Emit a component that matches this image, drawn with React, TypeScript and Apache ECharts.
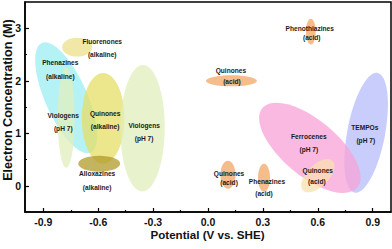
import React, { useEffect, useRef } from "react";
import * as echarts from "echarts";

// ---- data ----
// each region: endpoints of major axis [x1, y1, x2, y2] (V, M) and minor/major ratio
const regionNames = [
  "Phenazines (alkaline)",
  "Fluorenones (alkaline)",
  "Viologens (pH 7) A",
  "Quinones (alkaline)",
  "Viologens (pH 7) B",
  "Alloxazines (alkaline)",
  "Quinones (acid) A",
  "Phenothiazines (acid)",
  "TEMPOs (pH 7)",
  "Ferrocenes (pH 7)",
  "Quinones (acid) B",
  "Quinones (acid) C",
  "Phenazines (acid)",
];
const regionStart: [number, number][] = [
  [-0.908, 2.72],
  [-0.797, 2.64],
  [-0.775, 2.25],
  [-0.573, 2.15],
  [-0.355, 2.3],
  [-0.709, 0.42],
  [-0.011, 2.0],
  [0.562, 3.18],
  [0.927, 2.15],
  [0.297, 1.48],
  [0.519, -0.09],
  [0.109, 0.476],
  [0.306, 0.419],
];
const regionEnd: [number, number][] = [
  [-0.642, 0.633],
  [-0.633, 2.64],
  [-0.775, 0.343],
  [-0.573, 0.419],
  [-0.36, -0.11],
  [-0.48, 0.42],
  [0.267, 2.0],
  [0.562, 2.69],
  [0.802, -0.133],
  [0.816, -0.036],
  [0.681, 0.472],
  [0.109, -0.057],
  [0.306, -0.114],
];
const regionRatio = [0.35, 0.63, 0.17, 0.47, 0.35, 0.38, 0.22, 0.38, 0.31, 0.45, 0.52, 0.54, 0.43];
const regionColors = [
  "#9cedf2", "#ecdf8a", "#e0efbc", "#e6dd66", "#e0efbc", "#b09a2a", "#f2a666",
  "#f2a666", "#b6bcfb", "#f8a2d7", "#f8e0b0", "#f2a666", "#f2a666",
];

const labelTexts = [
  "Fluorenones", "(alkaline)",
  "Phenazines", "(alkaline)",
  "Viologens", "(pH 7)",
  "Quinones", "(alkaline)",
  "Viologens", "(pH 7)",
  "Alloxazines", "(alkaline)",
  "Quinones", "(acid)",
  "Phenothiazines", "(acid)",
  "Ferrocenes", "(pH 7)",
  "TEMPOs", "(pH 7)",
  "Quinones", "(acid)",
  "Quinones", "(acid)",
  "Phenazines", "(acid)",
];
const labelX = [
  -0.578, -0.578,
  -0.807, -0.807,
  -0.791, -0.791,
  -0.562, -0.562,
  -0.349, -0.349,
  -0.606, -0.606,
  0.125, 0.131,
  0.556, 0.567,
  0.551, 0.551,
  0.857, 0.862,
  0.6, 0.595,
  0.115, 0.115,
  0.322, 0.306,
];
const labelY = [
  2.74, 2.5,
  2.34, 2.08,
  1.33, 1.09,
  1.37, 1.12,
  1.14, 0.895,
  0.229, -0.038,
  2.19, 1.98,
  2.99, 2.82,
  0.933, 0.686,
  1.105, 0.857,
  0.286, 0.076,
  0.229, 0.057,
  0.076, -0.152,
];

const xTicks = [-0.9, -0.6, -0.3, 0, 0.3, 0.6, 0.9];
const xMinorTicks = [-0.75, -0.45, -0.15, 0.15, 0.45, 0.75];
const yTicks = [0, 1, 2, 3];
const yMinorTicks = [0.5, 1.5, 2.5];

const FONT = "'Liberation Sans', Arial, sans-serif";

export default function App() {
  const ref = useRef<HTMLDivElement>(null);
  useEffect(() => {
    if (!ref.current) return;
    const chart = echarts.init(ref.current, undefined, { renderer: "svg" });
    const regionData = regionNames.map((n, i) => ({
      name: n,
      value: [regionStart[i][0], regionStart[i][1], regionEnd[i][0], regionEnd[i][1], regionRatio[i]],
    }));
    const labelData = labelTexts.map((t, i) => ({ name: t, value: [labelX[i], labelY[i]] }));
    const option: any = {
      animation: false,
      grid: [{ left: 25, right: 1, top: 2, bottom: 37, show: true, borderColor: "#000", borderWidth: 1.5 }],
      xAxis: [
        {
          type: "value", min: -1, max: 1, gridIndex: 0,
          axisLine: { show: true, onZero: false, lineStyle: { color: "#000", width: 1.5 } },
          splitLine: { show: false },
          axisTick: { inside: true, length: 4, lineStyle: { color: "#000", width: 1.2 }, customValues: xTicks },
          axisLabel: {
            customValues: xTicks, margin: 5, color: "#111", fontWeight: "bold", fontSize: 10.5, fontFamily: FONT,
            lineHeight: 10,
            formatter: (v: number) => v.toFixed(1),
          },
        },
        {
          type: "value", min: -1, max: 1, gridIndex: 0, position: "bottom",
          axisLine: { show: false, onZero: false }, splitLine: { show: false }, axisLabel: { show: false },
          axisTick: { inside: true, length: 2, lineStyle: { color: "#000", width: 1.2 }, customValues: xMinorTicks },
        },
      ],
      yAxis: [
        {
          type: "value", min: -0.5, max: 3.5, gridIndex: 0,
          axisLine: { show: true, onZero: false, lineStyle: { color: "#000", width: 1.5 } },
          splitLine: { show: false },
          axisTick: { inside: true, length: 4, lineStyle: { color: "#000", width: 1.2 }, customValues: yTicks },
          axisLabel: {
            customValues: yTicks, margin: 4, color: "#111", fontWeight: "bold", fontSize: 10.5, fontFamily: FONT,
            formatter: (v: number) => String(v),
          },
        },
        {
          type: "value", min: -0.5, max: 3.5, gridIndex: 0, position: "left",
          axisLine: { show: false, onZero: false }, splitLine: { show: false }, axisLabel: { show: false },
          axisTick: { inside: true, length: 2, lineStyle: { color: "#000", width: 1.2 }, customValues: yMinorTicks },
        },
      ],
      series: [
        {
          type: "custom",
          xAxisIndex: 0,
          yAxisIndex: 0,
          data: regionData,
          encode: { x: [0, 2], y: [1, 3] },
          renderItem: (params: any, api: any) => {
            const p1 = api.coord([api.value(0), api.value(1)]);
            const p2 = api.coord([api.value(2), api.value(3)]);
            const cx = (p1[0] + p2[0]) / 2;
            const cy = (p1[1] + p2[1]) / 2;
            const a = Math.hypot(p2[0] - p1[0], p2[1] - p1[1]) / 2;
            const b = a * api.value(4);
            const ang = Math.atan2(p2[1] - p1[1], p2[0] - p1[0]);
            return {
              type: "ellipse",
              x: cx,
              y: cy,
              rotation: -ang,
              shape: { cx: 0, cy: 0, rx: a, ry: b },
              style: { fill: regionColors[params.dataIndex], opacity: 0.75 },
            };
          },
        },
        {
          type: "custom",
          xAxisIndex: 0,
          yAxisIndex: 0,
          data: labelData,
          z: 5,
          renderItem: (params: any, api: any) => {
            const p = api.coord([api.value(0), api.value(1)]);
            return {
              type: "text",
              x: p[0],
              y: p[1],
              style: {
                text: labelTexts[params.dataIndex],
                fill: "#1a1a1a",
                fontSize: 6.6,
                fontWeight: "bold",
                fontFamily: FONT,
                align: "center",
                verticalAlign: "middle",
              },
            };
          },
        },
      ],
      graphic: [
        {
          type: "text",
          x: 207.5,
          y: 234,
          style: {
            text: "Potential (V vs. SHE)",
            fill: "#111",
            fontSize: 11.6,
            fontWeight: "bold",
            fontFamily: FONT,
            align: "center",
            verticalAlign: "middle",
          },
        },
        {
          type: "text",
          x: 8,
          y: 100,
          rotation: Math.PI / 2,
          style: {
            text: "Electron Concentration (M)",
            fill: "#111",
            fontSize: 12.6,
            fontWeight: "bold",
            fontFamily: FONT,
            align: "center",
            verticalAlign: "middle",
          },
        },
      ],
    };
    chart.setOption(option);
    return () => chart.dispose();
  }, []);
  return <div ref={ref} style={{ width: 392, height: 249, position: "absolute", left: 0, top: 0 }} />;
}
